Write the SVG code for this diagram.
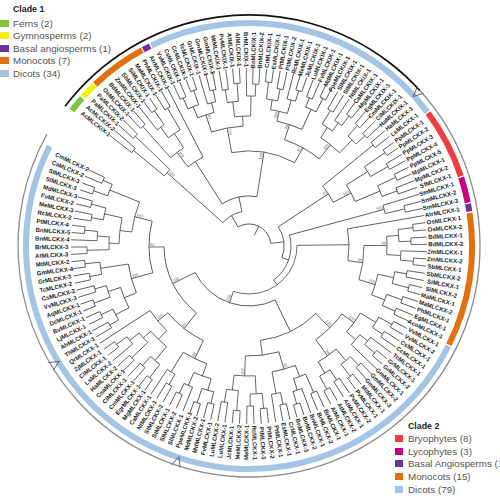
<svg xmlns="http://www.w3.org/2000/svg" width="500" height="500" viewBox="0 0 500 500">
<style>
.t path,.t circle{fill:none;stroke:#3a3a3a;stroke-width:0.75}
.lb text{font-family:"Liberation Sans",Arial,sans-serif;font-size:6px;font-weight:bold;fill:#1e1e1e}
.lb text.r{text-anchor:end}
.bs{font-family:"Liberation Sans",Arial,sans-serif;font-size:4px;fill:#666}
.bs .r{text-anchor:end}
.band{fill:none;stroke-width:6}
.v{fill:none;stroke:#555;stroke-width:0.8}
.lg{font-family:"Liberation Sans",Arial,sans-serif;font-size:9.8px;fill:#555}
.lh{font-family:"Liberation Sans",Arial,sans-serif;font-size:8.8px;font-weight:bold;fill:#222}
</style>
<rect width="500" height="500" fill="#fff"/>
<g transform="translate(249,246)">
<g id="rings">
<circle r="231" pathLength="360" fill="none" stroke="#8c8c8c" stroke-width="1.3" stroke-dasharray="251.3 360" transform="rotate(-42.3)"/>
<circle r="231" pathLength="360" fill="none" stroke="#111" stroke-width="1.7" stroke-dasharray="100.5 360" transform="rotate(-142.8)"/>
<circle class="band" r="223" pathLength="360" stroke="#80c342" stroke-dasharray="4.2 360" transform="rotate(-142.6)"/>
<circle class="band" r="223" pathLength="360" stroke="#f4f20c" stroke-dasharray="4.2 360" transform="rotate(-138)"/>
<circle class="band" r="223" pathLength="360" stroke="#e2700f" stroke-dasharray="15 360" transform="rotate(-133.6)"/>
<circle class="band" r="223" pathLength="360" stroke="#7030a0" stroke-dasharray="2 360" transform="rotate(-118.3)"/>
<circle class="band" r="223" pathLength="360" stroke="#a4c4e6" stroke-dasharray="79.1 360" transform="rotate(-116)"/>
<circle class="band" r="223" pathLength="360" stroke="#f03c3c" stroke-dasharray="18.4 360" transform="rotate(-36.6)"/>
<circle class="band" r="223" pathLength="360" stroke="#c8007f" stroke-dasharray="6.7 360" transform="rotate(-17.9)"/>
<circle class="band" r="223" pathLength="360" stroke="#7030a0" stroke-dasharray="2 360" transform="rotate(-10.9)"/>
<circle class="band" r="223" pathLength="360" stroke="#e2700f" stroke-dasharray="34.8 360" transform="rotate(-8.5)"/>
<circle class="band" r="223" pathLength="360" stroke="#a4c4e6" stroke-dasharray="180 360" transform="rotate(26.6)"/>
<path class="v" d="M232 -4.5L222 0L232 4.5" transform="rotate(-42.3)"/>
<path class="v" d="M232 -4.5L222 0L232 4.5" transform="rotate(108.4)"/>
<path class="v" d="M232 -4.5L222 0L232 4.5" transform="rotate(148.7)"/>
</g>
<g id="connectors" class="t">
<path d="M150 0H178" transform="rotate(-141.5)"/><path d="M150 0H178" transform="rotate(-139.3)"/><path d="M158 0H178" transform="rotate(-137.1)"/><path d="M158 0H178" transform="rotate(-134.9)"/><path d="M160 0H178" transform="rotate(-132.7)"/><path d="M160 0H178" transform="rotate(-130.5)"/><path d="M148 0H178" transform="rotate(-128.3)"/><path d="M165 0H178" transform="rotate(-126.1)"/><path d="M165 0H178" transform="rotate(-123.9)"/><path d="M160 0H178" transform="rotate(-121.7)"/><path d="M160 0H178" transform="rotate(-119.5)"/><path d="M100 0H178" transform="rotate(-117.3)"/><path d="M162 0H178" transform="rotate(-115.1)"/><path d="M162 0H178" transform="rotate(-112.9)"/><path d="M165 0H178" transform="rotate(-110.7)"/><path d="M165 0H178" transform="rotate(-108.5)"/><path d="M148 0H178" transform="rotate(-106.3)"/><path d="M160 0H178" transform="rotate(-104.1)"/><path d="M160 0H178" transform="rotate(-101.9)"/><path d="M158 0H178" transform="rotate(-99.7)"/><path d="M158 0H178" transform="rotate(-97.5)"/><path d="M163 0H178" transform="rotate(-95.3)"/><path d="M163 0H178" transform="rotate(-93.1)"/><path d="M150 0H178" transform="rotate(-90.9)"/><path d="M162 0H178" transform="rotate(-88.7)"/><path d="M162 0H178" transform="rotate(-86.5)"/><path d="M165 0H178" transform="rotate(-84.3)"/><path d="M165 0H178" transform="rotate(-82.1)"/><path d="M160 0H178" transform="rotate(-79.9)"/><path d="M160 0H178" transform="rotate(-77.7)"/><path d="M152 0H178" transform="rotate(-75.5)"/><path d="M163 0H178" transform="rotate(-73.3)"/><path d="M163 0H178" transform="rotate(-71.1)"/><path d="M160 0H178" transform="rotate(-68.9)"/><path d="M160 0H178" transform="rotate(-66.7)"/><path d="M165 0H178" transform="rotate(-64.5)"/><path d="M165 0H178" transform="rotate(-62.3)"/><path d="M158 0H178" transform="rotate(-60.1)"/><path d="M158 0H178" transform="rotate(-57.9)"/><path d="M152 0H178" transform="rotate(-55.7)"/><path d="M164 0H178" transform="rotate(-53.5)"/><path d="M164 0H178" transform="rotate(-51.3)"/><path d="M162 0H178" transform="rotate(-49.1)"/><path d="M162 0H178" transform="rotate(-46.9)"/><path d="M160 0H178" transform="rotate(-44.7)"/><path d="M160 0H178" transform="rotate(-42.5)"/>
<circle r="150" pathLength="360" stroke-dasharray="2.2 360" transform="rotate(-141.5)"/><path d="M110 0H150" transform="rotate(-140.4)"/>
<circle r="158" pathLength="360" stroke-dasharray="2.2 360" transform="rotate(-137.1)"/><path d="M110 0H158" transform="rotate(-136)"/>
<circle r="110" pathLength="360" stroke-dasharray="4.4 360" transform="rotate(-140.4)"/><path d="M35 0H110" transform="rotate(-138.2)"/>
<circle r="160" pathLength="360" stroke-dasharray="2.2 360" transform="rotate(-132.7)"/><path d="M118 0H160" transform="rotate(-131.6)"/>
<circle r="165" pathLength="360" stroke-dasharray="2.2 360" transform="rotate(-126.1)"/><path d="M148 0H165" transform="rotate(-125)"/>
<circle r="148" pathLength="360" stroke-dasharray="3.3 360" transform="rotate(-128.3)"/><path d="M135 0H148" transform="rotate(-126.65)"/>
<circle r="160" pathLength="360" stroke-dasharray="2.2 360" transform="rotate(-121.7)"/><path d="M135 0H160" transform="rotate(-120.6)"/>
<circle r="135" pathLength="360" stroke-dasharray="6.05 360" transform="rotate(-126.65)"/><path d="M118 0H135" transform="rotate(-123.6)"/>
<circle r="118" pathLength="360" stroke-dasharray="8 360" transform="rotate(-131.6)"/><path d="M100 0H118" transform="rotate(-127.6)"/>
<circle r="100" pathLength="360" stroke-dasharray="10.3 360" transform="rotate(-127.6)"/><path d="M50 0H100" transform="rotate(-122.45)"/>
<circle r="162" pathLength="360" stroke-dasharray="2.2 360" transform="rotate(-115.1)"/><path d="M150 0H162" transform="rotate(-114)"/>
<circle r="165" pathLength="360" stroke-dasharray="2.2 360" transform="rotate(-110.7)"/><path d="M150 0H165" transform="rotate(-109.6)"/>
<circle r="150" pathLength="360" stroke-dasharray="4.4 360" transform="rotate(-114)"/><path d="M138 0H150" transform="rotate(-111.8)"/>
<circle r="160" pathLength="360" stroke-dasharray="2.2 360" transform="rotate(-104.1)"/><path d="M148 0H160" transform="rotate(-103)"/>
<circle r="148" pathLength="360" stroke-dasharray="3.3 360" transform="rotate(-106.3)"/><path d="M138 0H148" transform="rotate(-104.65)"/>
<circle r="138" pathLength="360" stroke-dasharray="7.15 360" transform="rotate(-111.8)"/><path d="M120 0H138" transform="rotate(-108.2)"/>
<circle r="158" pathLength="360" stroke-dasharray="2.2 360" transform="rotate(-99.7)"/><path d="M145 0H158" transform="rotate(-98.6)"/>
<circle r="163" pathLength="360" stroke-dasharray="2.2 360" transform="rotate(-95.3)"/><path d="M145 0H163" transform="rotate(-94.2)"/>
<circle r="145" pathLength="360" stroke-dasharray="4.4 360" transform="rotate(-98.6)"/><path d="M130 0H145" transform="rotate(-96.4)"/>
<circle r="162" pathLength="360" stroke-dasharray="2.2 360" transform="rotate(-88.7)"/><path d="M150 0H162" transform="rotate(-87.6)"/>
<circle r="150" pathLength="360" stroke-dasharray="3.3 360" transform="rotate(-90.9)"/><path d="M130 0H150" transform="rotate(-89.25)"/>
<circle r="130" pathLength="360" stroke-dasharray="7.15 360" transform="rotate(-96.4)"/><path d="M120 0H130" transform="rotate(-92.8)"/>
<circle r="120" pathLength="360" stroke-dasharray="15.4 360" transform="rotate(-108.2)"/><path d="M95 0H120" transform="rotate(-100.5)"/>
<circle r="165" pathLength="360" stroke-dasharray="2.2 360" transform="rotate(-84.3)"/><path d="M148 0H165" transform="rotate(-83.2)"/>
<circle r="160" pathLength="360" stroke-dasharray="2.2 360" transform="rotate(-79.9)"/><path d="M148 0H160" transform="rotate(-78.8)"/>
<circle r="148" pathLength="360" stroke-dasharray="4.4 360" transform="rotate(-83.2)"/><path d="M138 0H148" transform="rotate(-81)"/>
<circle r="163" pathLength="360" stroke-dasharray="2.2 360" transform="rotate(-73.3)"/><path d="M152 0H163" transform="rotate(-72.2)"/>
<circle r="152" pathLength="360" stroke-dasharray="3.3 360" transform="rotate(-75.5)"/><path d="M138 0H152" transform="rotate(-73.85)"/>
<circle r="138" pathLength="360" stroke-dasharray="7.15 360" transform="rotate(-81)"/><path d="M128 0H138" transform="rotate(-77.4)"/>
<circle r="160" pathLength="360" stroke-dasharray="2.2 360" transform="rotate(-68.9)"/><path d="M150 0H160" transform="rotate(-67.8)"/>
<circle r="165" pathLength="360" stroke-dasharray="2.2 360" transform="rotate(-64.5)"/><path d="M150 0H165" transform="rotate(-63.4)"/>
<circle r="150" pathLength="360" stroke-dasharray="4.4 360" transform="rotate(-67.8)"/><path d="M128 0H150" transform="rotate(-65.6)"/>
<circle r="128" pathLength="360" stroke-dasharray="11.8 360" transform="rotate(-77.4)"/><path d="M112 0H128" transform="rotate(-71.5)"/>
<circle r="158" pathLength="360" stroke-dasharray="2.2 360" transform="rotate(-60.1)"/><path d="M142 0H158" transform="rotate(-59)"/>
<circle r="164" pathLength="360" stroke-dasharray="2.2 360" transform="rotate(-53.5)"/><path d="M152 0H164" transform="rotate(-52.4)"/>
<circle r="152" pathLength="360" stroke-dasharray="3.3 360" transform="rotate(-55.7)"/><path d="M142 0H152" transform="rotate(-54.05)"/>
<circle r="142" pathLength="360" stroke-dasharray="4.95 360" transform="rotate(-59)"/><path d="M130 0H142" transform="rotate(-56.5)"/>
<circle r="162" pathLength="360" stroke-dasharray="2.2 360" transform="rotate(-49.1)"/><path d="M148 0H162" transform="rotate(-48)"/>
<circle r="160" pathLength="360" stroke-dasharray="2.2 360" transform="rotate(-44.7)"/><path d="M148 0H160" transform="rotate(-43.6)"/>
<circle r="148" pathLength="360" stroke-dasharray="4.4 360" transform="rotate(-48)"/><path d="M130 0H148" transform="rotate(-45.8)"/>
<circle r="130" pathLength="360" stroke-dasharray="10.7 360" transform="rotate(-56.5)"/><path d="M112 0H130" transform="rotate(-51.15)"/>
<circle r="112" pathLength="360" stroke-dasharray="20.35 360" transform="rotate(-71.5)"/><path d="M95 0H112" transform="rotate(-61.3)"/>
<circle r="95" pathLength="360" stroke-dasharray="39.2 360" transform="rotate(-100.5)"/><path d="M50 0H95" transform="rotate(-80.9)"/>
<circle r="50" pathLength="360" stroke-dasharray="41.55 360" transform="rotate(-122.45)"/><path d="M35 0H50" transform="rotate(-101.7)"/>
<circle r="35" pathLength="360" stroke-dasharray="36.5 360" transform="rotate(-138.2)"/><path d="M22 0H35" transform="rotate(-119.95)"/>
<circle r="22" pathLength="360" stroke-dasharray="113.05 360" transform="rotate(-119.95)"/><path d="M12 0H22" transform="rotate(-63.4)"/>
<path d="M160 0H178" transform="rotate(-40.3)"/><path d="M160 0H178" transform="rotate(-37.96)"/><path d="M165 0H178" transform="rotate(-35.62)"/><path d="M165 0H178" transform="rotate(-33.28)"/><path d="M160 0H178" transform="rotate(-30.94)"/><path d="M160 0H178" transform="rotate(-28.6)"/><path d="M162 0H178" transform="rotate(-26.26)"/><path d="M162 0H178" transform="rotate(-23.92)"/><path d="M158 0H178" transform="rotate(-21.58)"/><path d="M158 0H178" transform="rotate(-19.24)"/><path d="M140 0H178" transform="rotate(-16.9)"/><path d="M160 0H178" transform="rotate(-14.56)"/><path d="M160 0H178" transform="rotate(-12.22)"/><path d="M100 0H178" transform="rotate(-9.88)"/><path d="M165 0H178" transform="rotate(-7.54)"/><path d="M165 0H178" transform="rotate(-5.2)"/><path d="M162 0H178" transform="rotate(-2.86)"/><path d="M162 0H178" transform="rotate(-0.52)"/><path d="M152 0H178" transform="rotate(1.82)"/><path d="M165 0H178" transform="rotate(4.16)"/><path d="M165 0H178" transform="rotate(6.5)"/><path d="M160 0H178" transform="rotate(8.84)"/><path d="M160 0H178" transform="rotate(11.18)"/><path d="M165 0H178" transform="rotate(13.52)"/><path d="M165 0H178" transform="rotate(15.86)"/><path d="M162 0H178" transform="rotate(18.2)"/><path d="M162 0H178" transform="rotate(20.54)"/><path d="M160 0H178" transform="rotate(22.88)"/><path d="M160 0H178" transform="rotate(25.22)"/><path d="M163 0H178" transform="rotate(27.56)"/><path d="M163 0H178" transform="rotate(29.9)"/><path d="M160 0H178" transform="rotate(32.24)"/><path d="M160 0H178" transform="rotate(34.58)"/><path d="M152 0H178" transform="rotate(36.92)"/><path d="M165 0H178" transform="rotate(39.26)"/><path d="M165 0H178" transform="rotate(41.6)"/><path d="M142 0H178" transform="rotate(43.94)"/><path d="M162 0H178" transform="rotate(46.28)"/><path d="M162 0H178" transform="rotate(48.62)"/><path d="M165 0H178" transform="rotate(50.96)"/><path d="M165 0H178" transform="rotate(53.3)"/><path d="M160 0H178" transform="rotate(55.64)"/><path d="M160 0H178" transform="rotate(57.98)"/><path d="M163 0H178" transform="rotate(60.32)"/><path d="M163 0H178" transform="rotate(62.66)"/><path d="M160 0H178" transform="rotate(65)"/><path d="M160 0H178" transform="rotate(67.34)"/><path d="M152 0H178" transform="rotate(69.68)"/><path d="M165 0H178" transform="rotate(72.02)"/><path d="M165 0H178" transform="rotate(74.36)"/><path d="M162 0H178" transform="rotate(76.7)"/><path d="M162 0H178" transform="rotate(79.04)"/><path d="M150 0H178" transform="rotate(81.38)"/><path d="M163 0H178" transform="rotate(83.72)"/><path d="M163 0H178" transform="rotate(86.06)"/><path d="M160 0H178" transform="rotate(88.4)"/><path d="M160 0H178" transform="rotate(90.74)"/><path d="M165 0H178" transform="rotate(93.08)"/><path d="M165 0H178" transform="rotate(95.42)"/><path d="M158 0H178" transform="rotate(97.76)"/><path d="M158 0H178" transform="rotate(100.1)"/><path d="M162 0H178" transform="rotate(102.44)"/><path d="M162 0H178" transform="rotate(104.78)"/><path d="M165 0H178" transform="rotate(107.12)"/><path d="M165 0H178" transform="rotate(109.46)"/><path d="M152 0H178" transform="rotate(111.8)"/><path d="M163 0H178" transform="rotate(114.14)"/><path d="M163 0H178" transform="rotate(116.48)"/><path d="M160 0H178" transform="rotate(118.82)"/><path d="M160 0H178" transform="rotate(121.16)"/><path d="M148 0H178" transform="rotate(123.5)"/><path d="M165 0H178" transform="rotate(125.84)"/><path d="M165 0H178" transform="rotate(128.18)"/><path d="M160 0H178" transform="rotate(130.52)"/><path d="M160 0H178" transform="rotate(132.86)"/><path d="M162 0H178" transform="rotate(135.2)"/><path d="M162 0H178" transform="rotate(137.54)"/><path d="M152 0H178" transform="rotate(139.88)"/><path d="M165 0H178" transform="rotate(142.22)"/><path d="M165 0H178" transform="rotate(144.56)"/><path d="M118 0H178" transform="rotate(146.9)"/><path d="M160 0H178" transform="rotate(149.24)"/><path d="M160 0H178" transform="rotate(151.58)"/><path d="M163 0H178" transform="rotate(153.92)"/><path d="M163 0H178" transform="rotate(156.26)"/><path d="M165 0H178" transform="rotate(158.6)"/><path d="M165 0H178" transform="rotate(160.94)"/><path d="M160 0H178" transform="rotate(163.28)"/><path d="M160 0H178" transform="rotate(165.62)"/><path d="M162 0H178" transform="rotate(167.96)"/><path d="M162 0H178" transform="rotate(170.3)"/><path d="M165 0H178" transform="rotate(172.64)"/><path d="M165 0H178" transform="rotate(174.98)"/><path d="M162 0H178" transform="rotate(177.32)"/><path d="M162 0H178" transform="rotate(179.66)"/><path d="M152 0H178" transform="rotate(182)"/><path d="M165 0H178" transform="rotate(184.34)"/><path d="M165 0H178" transform="rotate(186.68)"/><path d="M160 0H178" transform="rotate(189.02)"/><path d="M160 0H178" transform="rotate(191.36)"/><path d="M163 0H178" transform="rotate(193.7)"/><path d="M163 0H178" transform="rotate(196.04)"/><path d="M165 0H178" transform="rotate(198.38)"/><path d="M165 0H178" transform="rotate(200.72)"/><path d="M160 0H178" transform="rotate(203.06)"/><path d="M160 0H178" transform="rotate(205.4)"/>
<circle r="160" pathLength="360" stroke-dasharray="2.34 360" transform="rotate(-40.3)"/><path d="M95 0H160" transform="rotate(-39.13)"/>
<circle r="165" pathLength="360" stroke-dasharray="2.34 360" transform="rotate(-35.62)"/><path d="M140 0H165" transform="rotate(-34.45)"/>
<circle r="160" pathLength="360" stroke-dasharray="2.34 360" transform="rotate(-30.94)"/><path d="M140 0H160" transform="rotate(-29.77)"/>
<circle r="140" pathLength="360" stroke-dasharray="4.68 360" transform="rotate(-34.45)"/><path d="M115 0H140" transform="rotate(-32.11)"/>
<circle r="162" pathLength="360" stroke-dasharray="2.34 360" transform="rotate(-26.26)"/><path d="M142 0H162" transform="rotate(-25.09)"/>
<circle r="158" pathLength="360" stroke-dasharray="2.34 360" transform="rotate(-21.58)"/><path d="M142 0H158" transform="rotate(-20.41)"/>
<circle r="142" pathLength="360" stroke-dasharray="4.68 360" transform="rotate(-25.09)"/><path d="M115 0H142" transform="rotate(-22.75)"/>
<circle r="115" pathLength="360" stroke-dasharray="9.36 360" transform="rotate(-32.11)"/><path d="M95 0H115" transform="rotate(-27.43)"/>
<circle r="95" pathLength="360" stroke-dasharray="11.7 360" transform="rotate(-39.13)"/><path d="M35 0H95" transform="rotate(-33.28)"/>
<circle r="160" pathLength="360" stroke-dasharray="2.34 360" transform="rotate(-14.56)"/><path d="M140 0H160" transform="rotate(-13.39)"/>
<circle r="140" pathLength="360" stroke-dasharray="3.51 360" transform="rotate(-16.9)"/><path d="M42 0H140" transform="rotate(-15.15)"/>
<circle r="165" pathLength="360" stroke-dasharray="2.34 360" transform="rotate(-7.54)"/><path d="M150 0H165" transform="rotate(-6.37)"/>
<circle r="162" pathLength="360" stroke-dasharray="2.34 360" transform="rotate(-2.86)"/><path d="M150 0H162" transform="rotate(-1.69)"/>
<circle r="150" pathLength="360" stroke-dasharray="4.68 360" transform="rotate(-6.37)"/><path d="M138 0H150" transform="rotate(-4.03)"/>
<circle r="165" pathLength="360" stroke-dasharray="2.34 360" transform="rotate(4.16)"/><path d="M152 0H165" transform="rotate(5.33)"/>
<circle r="152" pathLength="360" stroke-dasharray="3.51 360" transform="rotate(1.82)"/><path d="M138 0H152" transform="rotate(3.58)"/>
<circle r="138" pathLength="360" stroke-dasharray="7.61 360" transform="rotate(-4.03)"/><path d="M115 0H138" transform="rotate(-0.23)"/>
<circle r="160" pathLength="360" stroke-dasharray="2.34 360" transform="rotate(8.84)"/><path d="M148 0H160" transform="rotate(10.01)"/>
<circle r="165" pathLength="360" stroke-dasharray="2.34 360" transform="rotate(13.52)"/><path d="M148 0H165" transform="rotate(14.69)"/>
<circle r="148" pathLength="360" stroke-dasharray="4.68 360" transform="rotate(10.01)"/><path d="M132 0H148" transform="rotate(12.35)"/>
<circle r="162" pathLength="360" stroke-dasharray="2.34 360" transform="rotate(18.2)"/><path d="M146 0H162" transform="rotate(19.37)"/>
<circle r="160" pathLength="360" stroke-dasharray="2.34 360" transform="rotate(22.88)"/><path d="M146 0H160" transform="rotate(24.05)"/>
<circle r="146" pathLength="360" stroke-dasharray="4.68 360" transform="rotate(19.37)"/><path d="M132 0H146" transform="rotate(21.71)"/>
<circle r="132" pathLength="360" stroke-dasharray="9.36 360" transform="rotate(12.35)"/><path d="M115 0H132" transform="rotate(17.03)"/>
<circle r="115" pathLength="360" stroke-dasharray="17.26 360" transform="rotate(-0.23)"/><path d="M100 0H115" transform="rotate(8.4)"/>
<circle r="100" pathLength="360" stroke-dasharray="18.28 360" transform="rotate(-9.88)"/><path d="M48 0H100" transform="rotate(-0.74)"/>
<circle r="163" pathLength="360" stroke-dasharray="2.34 360" transform="rotate(27.56)"/><path d="M148 0H163" transform="rotate(28.73)"/>
<circle r="160" pathLength="360" stroke-dasharray="2.34 360" transform="rotate(32.24)"/><path d="M148 0H160" transform="rotate(33.41)"/>
<circle r="148" pathLength="360" stroke-dasharray="4.68 360" transform="rotate(28.73)"/><path d="M130 0H148" transform="rotate(31.07)"/>
<circle r="165" pathLength="360" stroke-dasharray="2.34 360" transform="rotate(39.26)"/><path d="M152 0H165" transform="rotate(40.43)"/>
<circle r="152" pathLength="360" stroke-dasharray="3.51 360" transform="rotate(36.92)"/><path d="M142 0H152" transform="rotate(38.68)"/>
<circle r="142" pathLength="360" stroke-dasharray="5.26 360" transform="rotate(38.68)"/><path d="M130 0H142" transform="rotate(41.31)"/>
<circle r="130" pathLength="360" stroke-dasharray="10.24 360" transform="rotate(31.07)"/><path d="M115 0H130" transform="rotate(36.19)"/>
<circle r="162" pathLength="360" stroke-dasharray="2.34 360" transform="rotate(46.28)"/><path d="M150 0H162" transform="rotate(47.45)"/>
<circle r="165" pathLength="360" stroke-dasharray="2.34 360" transform="rotate(50.96)"/><path d="M150 0H165" transform="rotate(52.13)"/>
<circle r="150" pathLength="360" stroke-dasharray="4.68 360" transform="rotate(47.45)"/><path d="M135 0H150" transform="rotate(49.79)"/>
<circle r="160" pathLength="360" stroke-dasharray="2.34 360" transform="rotate(55.64)"/><path d="M148 0H160" transform="rotate(56.81)"/>
<circle r="163" pathLength="360" stroke-dasharray="2.34 360" transform="rotate(60.32)"/><path d="M148 0H163" transform="rotate(61.49)"/>
<circle r="148" pathLength="360" stroke-dasharray="4.68 360" transform="rotate(56.81)"/><path d="M135 0H148" transform="rotate(59.15)"/>
<circle r="135" pathLength="360" stroke-dasharray="9.36 360" transform="rotate(49.79)"/><path d="M115 0H135" transform="rotate(54.47)"/>
<circle r="115" pathLength="360" stroke-dasharray="18.28 360" transform="rotate(36.19)"/><path d="M95 0H115" transform="rotate(45.33)"/>
<circle r="160" pathLength="360" stroke-dasharray="2.34 360" transform="rotate(65)"/><path d="M140 0H160" transform="rotate(66.17)"/>
<circle r="165" pathLength="360" stroke-dasharray="2.34 360" transform="rotate(72.02)"/><path d="M152 0H165" transform="rotate(73.19)"/>
<circle r="152" pathLength="360" stroke-dasharray="3.51 360" transform="rotate(69.68)"/><path d="M140 0H152" transform="rotate(71.44)"/>
<circle r="140" pathLength="360" stroke-dasharray="5.27 360" transform="rotate(66.17)"/><path d="M128 0H140" transform="rotate(68.8)"/>
<circle r="162" pathLength="360" stroke-dasharray="2.34 360" transform="rotate(76.7)"/><path d="M150 0H162" transform="rotate(77.87)"/>
<circle r="150" pathLength="360" stroke-dasharray="3.51 360" transform="rotate(77.87)"/><path d="M128 0H150" transform="rotate(79.63)"/>
<circle r="128" pathLength="360" stroke-dasharray="10.83 360" transform="rotate(68.8)"/><path d="M110 0H128" transform="rotate(74.2)"/>
<circle r="163" pathLength="360" stroke-dasharray="2.34 360" transform="rotate(83.72)"/><path d="M148 0H163" transform="rotate(84.89)"/>
<circle r="160" pathLength="360" stroke-dasharray="2.34 360" transform="rotate(88.4)"/><path d="M148 0H160" transform="rotate(89.57)"/>
<circle r="148" pathLength="360" stroke-dasharray="4.68 360" transform="rotate(84.89)"/><path d="M130 0H148" transform="rotate(87.23)"/>
<circle r="165" pathLength="360" stroke-dasharray="2.34 360" transform="rotate(93.08)"/><path d="M145 0H165" transform="rotate(94.25)"/>
<circle r="158" pathLength="360" stroke-dasharray="2.34 360" transform="rotate(97.76)"/><path d="M145 0H158" transform="rotate(98.93)"/>
<circle r="145" pathLength="360" stroke-dasharray="4.68 360" transform="rotate(94.25)"/><path d="M130 0H145" transform="rotate(96.59)"/>
<circle r="130" pathLength="360" stroke-dasharray="9.36 360" transform="rotate(87.23)"/><path d="M110 0H130" transform="rotate(91.91)"/>
<circle r="110" pathLength="360" stroke-dasharray="17.71 360" transform="rotate(74.2)"/><path d="M95 0H110" transform="rotate(83.05)"/>
<circle r="95" pathLength="360" stroke-dasharray="37.72 360" transform="rotate(45.33)"/><path d="M60 0H95" transform="rotate(64.19)"/>
<circle r="162" pathLength="360" stroke-dasharray="2.34 360" transform="rotate(102.44)"/><path d="M150 0H162" transform="rotate(103.61)"/>
<circle r="165" pathLength="360" stroke-dasharray="2.34 360" transform="rotate(107.12)"/><path d="M150 0H165" transform="rotate(108.29)"/>
<circle r="150" pathLength="360" stroke-dasharray="4.68 360" transform="rotate(103.61)"/><path d="M138 0H150" transform="rotate(105.95)"/>
<circle r="163" pathLength="360" stroke-dasharray="2.34 360" transform="rotate(114.14)"/><path d="M152 0H163" transform="rotate(115.31)"/>
<circle r="152" pathLength="360" stroke-dasharray="3.51 360" transform="rotate(111.8)"/><path d="M138 0H152" transform="rotate(113.55)"/>
<circle r="138" pathLength="360" stroke-dasharray="7.6 360" transform="rotate(105.95)"/><path d="M125 0H138" transform="rotate(109.75)"/>
<circle r="160" pathLength="360" stroke-dasharray="2.34 360" transform="rotate(118.82)"/><path d="M148 0H160" transform="rotate(120)"/>
<circle r="148" pathLength="360" stroke-dasharray="3.5 360" transform="rotate(120)"/><path d="M125 0H148" transform="rotate(121.75)"/>
<circle r="125" pathLength="360" stroke-dasharray="12 360" transform="rotate(109.75)"/><path d="M105 0H125" transform="rotate(115.75)"/>
<circle r="165" pathLength="360" stroke-dasharray="2.34 360" transform="rotate(125.84)"/><path d="M148 0H165" transform="rotate(127.01)"/>
<circle r="160" pathLength="360" stroke-dasharray="2.34 360" transform="rotate(130.52)"/><path d="M148 0H160" transform="rotate(131.69)"/>
<circle r="148" pathLength="360" stroke-dasharray="4.68 360" transform="rotate(127.01)"/><path d="M130 0H148" transform="rotate(129.35)"/>
<circle r="162" pathLength="360" stroke-dasharray="2.34 360" transform="rotate(135.2)"/><path d="M140 0H162" transform="rotate(136.37)"/>
<circle r="165" pathLength="360" stroke-dasharray="2.34 360" transform="rotate(142.22)"/><path d="M152 0H165" transform="rotate(143.39)"/>
<circle r="152" pathLength="360" stroke-dasharray="3.51 360" transform="rotate(139.88)"/><path d="M140 0H152" transform="rotate(141.64)"/>
<circle r="140" pathLength="360" stroke-dasharray="5.27 360" transform="rotate(136.37)"/><path d="M130 0H140" transform="rotate(139)"/>
<circle r="130" pathLength="360" stroke-dasharray="9.65 360" transform="rotate(129.35)"/><path d="M118 0H130" transform="rotate(134.18)"/>
<circle r="118" pathLength="360" stroke-dasharray="12.72 360" transform="rotate(134.18)"/><path d="M105 0H118" transform="rotate(140.54)"/>
<circle r="105" pathLength="360" stroke-dasharray="24.79 360" transform="rotate(115.75)"/><path d="M85 0H105" transform="rotate(128.15)"/>
<circle r="160" pathLength="360" stroke-dasharray="2.34 360" transform="rotate(149.24)"/><path d="M150 0H160" transform="rotate(150.41)"/>
<circle r="163" pathLength="360" stroke-dasharray="2.34 360" transform="rotate(153.92)"/><path d="M150 0H163" transform="rotate(155.09)"/>
<circle r="150" pathLength="360" stroke-dasharray="4.68 360" transform="rotate(150.41)"/><path d="M135 0H150" transform="rotate(152.75)"/>
<circle r="165" pathLength="360" stroke-dasharray="2.34 360" transform="rotate(158.6)"/><path d="M148 0H165" transform="rotate(159.77)"/>
<circle r="160" pathLength="360" stroke-dasharray="2.34 360" transform="rotate(163.28)"/><path d="M148 0H160" transform="rotate(164.45)"/>
<circle r="148" pathLength="360" stroke-dasharray="4.68 360" transform="rotate(159.77)"/><path d="M135 0H148" transform="rotate(162.11)"/>
<circle r="135" pathLength="360" stroke-dasharray="9.36 360" transform="rotate(152.75)"/><path d="M122 0H135" transform="rotate(157.43)"/>
<circle r="162" pathLength="360" stroke-dasharray="2.34 360" transform="rotate(167.96)"/><path d="M150 0H162" transform="rotate(169.13)"/>
<circle r="165" pathLength="360" stroke-dasharray="2.34 360" transform="rotate(172.64)"/><path d="M150 0H165" transform="rotate(173.81)"/>
<circle r="150" pathLength="360" stroke-dasharray="4.68 360" transform="rotate(169.13)"/><path d="M122 0H150" transform="rotate(171.47)"/>
<circle r="122" pathLength="360" stroke-dasharray="14.04 360" transform="rotate(157.43)"/><path d="M100 0H122" transform="rotate(164.45)"/>
<circle r="162" pathLength="360" stroke-dasharray="2.34 360" transform="rotate(177.32)"/><path d="M140 0H162" transform="rotate(178.49)"/>
<circle r="165" pathLength="360" stroke-dasharray="2.34 360" transform="rotate(184.34)"/><path d="M152 0H165" transform="rotate(185.51)"/>
<circle r="152" pathLength="360" stroke-dasharray="3.51 360" transform="rotate(182)"/><path d="M140 0H152" transform="rotate(183.76)"/>
<circle r="140" pathLength="360" stroke-dasharray="5.27 360" transform="rotate(178.49)"/><path d="M130 0H140" transform="rotate(181.13)"/>
<circle r="160" pathLength="360" stroke-dasharray="2.34 360" transform="rotate(189.02)"/><path d="M148 0H160" transform="rotate(190.19)"/>
<circle r="163" pathLength="360" stroke-dasharray="2.34 360" transform="rotate(193.7)"/><path d="M148 0H163" transform="rotate(194.87)"/>
<circle r="148" pathLength="360" stroke-dasharray="4.68 360" transform="rotate(190.19)"/><path d="M130 0H148" transform="rotate(192.53)"/>
<circle r="130" pathLength="360" stroke-dasharray="11.4 360" transform="rotate(181.13)"/><path d="M118 0H130" transform="rotate(186.83)"/>
<circle r="165" pathLength="360" stroke-dasharray="2.34 360" transform="rotate(198.38)"/><path d="M150 0H165" transform="rotate(199.55)"/>
<circle r="160" pathLength="360" stroke-dasharray="2.34 360" transform="rotate(203.06)"/><path d="M150 0H160" transform="rotate(204.23)"/>
<circle r="150" pathLength="360" stroke-dasharray="4.68 360" transform="rotate(199.55)"/><path d="M118 0H150" transform="rotate(201.89)"/>
<circle r="118" pathLength="360" stroke-dasharray="15.06 360" transform="rotate(186.83)"/><path d="M100 0H118" transform="rotate(194.36)"/>
<circle r="100" pathLength="360" stroke-dasharray="29.91 360" transform="rotate(164.45)"/><path d="M85 0H100" transform="rotate(179.4)"/>
<circle r="85" pathLength="360" stroke-dasharray="51.25 360" transform="rotate(128.15)"/><path d="M60 0H85" transform="rotate(153.78)"/>
<circle r="60" pathLength="360" stroke-dasharray="89.59 360" transform="rotate(64.19)"/><path d="M48 0H60" transform="rotate(108.99)"/>
<circle r="48" pathLength="360" stroke-dasharray="109.73 360" transform="rotate(-0.74)"/><path d="M42 0H48" transform="rotate(54.1)"/>
<circle r="42" pathLength="360" stroke-dasharray="69.25 360" transform="rotate(-15.15)"/><path d="M35 0H42" transform="rotate(19.5)"/>
<circle r="35" pathLength="360" stroke-dasharray="52.78 360" transform="rotate(-33.28)"/><path d="M22 0H35" transform="rotate(-6.9)"/>
</g>
<g id="bootstrap" class="bs">
<text class="r" transform="rotate(-77.4)" x="137" y="-1">100</text>
<text class="r" transform="rotate(-71.5)" x="127" y="-1">99</text>
<text class="r" transform="rotate(-51.15)" x="129" y="-1">100</text>
<text class="r" transform="rotate(-61.3)" x="111" y="-1">87</text>
<text class="r" transform="rotate(-80.9)" x="94" y="-1">100</text>
<text class="r" transform="rotate(-27.43)" x="114" y="-1">100</text>
<text class="r" transform="rotate(-33.28)" x="94" y="-1">76</text>
<text class="r" transform="rotate(-15.15)" x="139" y="-1">100</text>
<text class="r" transform="rotate(-0.23)" x="137" y="-1">98</text>
<text class="r" transform="rotate(17.03)" x="131" y="-1">100</text>
<text class="r" transform="rotate(8.4)" x="114" y="-1">99</text>
<text class="r" transform="rotate(36.19)" x="129" y="-1">100</text>
<text class="r" transform="rotate(54.47)" x="134" y="-1">94</text>
<text class="r" transform="rotate(45.33)" x="114" y="-1">100</text>
<text class="r" transform="rotate(74.2)" x="127" y="-1">88</text>
<text transform="rotate(41.8)" x="-109" y="-1">100</text>
<text transform="rotate(52.4)" x="-117" y="-1">100</text>
<text transform="rotate(71.8)" x="-137" y="-1">97</text>
<text transform="rotate(79.5)" x="-119" y="-1">100</text>
<text transform="rotate(-88.09)" x="-129" y="-1">100</text>
<text transform="rotate(-64.25)" x="-124" y="-1">99</text>
<text transform="rotate(-39.46)" x="-117" y="-1">100</text>
<text transform="rotate(-51.85)" x="-104" y="-1">83</text>
<text transform="rotate(-15.55)" x="-121" y="-1">100</text>
<text transform="rotate(14.36)" x="-117" y="-1">100</text>
<text transform="rotate(-0.6)" x="-99" y="-1">92</text>
<text transform="rotate(-26.22)" x="-84" y="-1">100</text>
<text transform="rotate(-71.01)" x="-59" y="-1">100</text>
</g>
<g class="lb">
<g id="a0"><text transform="rotate(38.5)" x="-214" y="2">AcMLCKIX-1</text></g>
<g id="a1"><text transform="rotate(40.7)" x="-214" y="2">AcMLCKIX-2</text></g>
<g id="a2"><text transform="rotate(42.9)" x="-214" y="2">PaMLCKIX-1</text></g>
<g id="a3"><text transform="rotate(45.1)" x="-214" y="2">PaMLCKIX-2</text></g>
<g id="a4"><text transform="rotate(47.3)" x="-214" y="2">OsMLCKIX-1</text></g>
<g id="a5"><text transform="rotate(49.5)" x="-214" y="2">BdMLCKIX-1</text></g>
<g id="a6"><text transform="rotate(51.7)" x="-214" y="2">ZmMLCKIX-1</text></g>
<g id="a7"><text transform="rotate(53.9)" x="-214" y="2">SbMLCKIX-1</text></g>
<g id="a8"><text transform="rotate(56.1)" x="-214" y="2">SiMLCKIX-1</text></g>
<g id="a9"><text transform="rotate(58.3)" x="-214" y="2">MaMLCKIX-1</text></g>
<g id="a10"><text transform="rotate(60.5)" x="-214" y="2">PhMLCKIX-1</text></g>
<g id="a11"><text transform="rotate(62.7)" x="-214" y="2">AtrMLCKIX-1</text></g>
<g id="a12"><text transform="rotate(64.9)" x="-214" y="2">VvMLCKIX-1</text></g>
<g id="a13"><text transform="rotate(67.1)" x="-214" y="2">CsMLCKIX-1</text></g>
<g id="a14"><text transform="rotate(69.3)" x="-214" y="2">CcMLCKIX-1</text></g>
<g id="a15"><text transform="rotate(71.5)" x="-214" y="2">TcMLCKIX-1</text></g>
<g id="a16"><text transform="rotate(73.7)" x="-214" y="2">GrMLCKIX-1</text></g>
<g id="a17"><text transform="rotate(75.9)" x="-214" y="2">GmMLCKIX-1</text></g>
<g id="a18"><text transform="rotate(78.1)" x="-214" y="2">GmMLCKIX-2</text></g>
<g id="a19"><text transform="rotate(80.3)" x="-214" y="2">MtMLCKIX-1</text></g>
<g id="a20"><text transform="rotate(82.5)" x="-214" y="2">PvMLCKIX-1</text></g>
<g id="a21"><text transform="rotate(84.7)" x="-214" y="2">AtMLCKIX-1</text></g>
<g id="a22"><text transform="rotate(86.9)" x="-214" y="2">AlMLCKIX-1</text></g>
<g id="a23"><text transform="rotate(89.1)" x="-214" y="2">BrMLCKIX-1</text></g>
<g id="a24"><text class="r" transform="rotate(-88.7)" x="214" y="2">BnMLCKIX-1</text></g>
<g id="a25"><text class="r" transform="rotate(-86.5)" x="214" y="2">BnMLCKIX-2</text></g>
<g id="a26"><text class="r" transform="rotate(-84.3)" x="214" y="2">CrMLCKIX-1</text></g>
<g id="a27"><text class="r" transform="rotate(-82.1)" x="214" y="2">EsMLCKIX-1</text></g>
<g id="a28"><text class="r" transform="rotate(-79.9)" x="214" y="2">PtMLCKIX-1</text></g>
<g id="a29"><text class="r" transform="rotate(-77.7)" x="214" y="2">PtMLCKIX-2</text></g>
<g id="a30"><text class="r" transform="rotate(-75.5)" x="214" y="2">RcMLCKIX-1</text></g>
<g id="a31"><text class="r" transform="rotate(-73.3)" x="214" y="2">MeMLCKIX-1</text></g>
<g id="a32"><text class="r" transform="rotate(-71.1)" x="214" y="2">JcMLCKIX-1</text></g>
<g id="a33"><text class="r" transform="rotate(-68.9)" x="214" y="2">LuMLCKIX-1</text></g>
<g id="a34"><text class="r" transform="rotate(-66.7)" x="214" y="2">FvMLCKIX-1</text></g>
<g id="a35"><text class="r" transform="rotate(-64.5)" x="214" y="2">MdMLCKIX-1</text></g>
<g id="a36"><text class="r" transform="rotate(-62.3)" x="214" y="2">PpeMLCKIX-1</text></g>
<g id="a37"><text class="r" transform="rotate(-60.1)" x="214" y="2">SlMLCKIX-1</text></g>
<g id="a38"><text class="r" transform="rotate(-57.9)" x="214" y="2">StMLCKIX-1</text></g>
<g id="a39"><text class="r" transform="rotate(-55.7)" x="214" y="2">NtMLCKIX-1</text></g>
<g id="a40"><text class="r" transform="rotate(-53.5)" x="214" y="2">CaMLCKIX-1</text></g>
<g id="a41"><text class="r" transform="rotate(-51.3)" x="214" y="2">MgMLCKIX-1</text></g>
<g id="a42"><text class="r" transform="rotate(-49.1)" x="214" y="2">EgMLCKIX-1</text></g>
<g id="a43"><text class="r" transform="rotate(-46.9)" x="214" y="2">CmMLCKIX-1</text></g>
<g id="a44"><text class="r" transform="rotate(-44.7)" x="214" y="2">ClMLCKIX-1</text></g>
<g id="a45"><text class="r" transform="rotate(-42.5)" x="214" y="2">HaMLCKIX-1</text></g>
<g id="b0"><text class="r" transform="rotate(-40.3)" x="214" y="2">HaMLCKX-1</text></g>
<g id="b1"><text class="r" transform="rotate(-37.96)" x="214" y="2">LsMLCKX-1</text></g>
<g id="b2"><text class="r" transform="rotate(-35.62)" x="214" y="2">PpMLCKX-1</text></g>
<g id="b3"><text class="r" transform="rotate(-33.28)" x="214" y="2">PpMLCKX-2</text></g>
<g id="b4"><text class="r" transform="rotate(-30.94)" x="214" y="2">PpMLCKX-3</text></g>
<g id="b5"><text class="r" transform="rotate(-28.6)" x="214" y="2">PpMLCKX-4</text></g>
<g id="b6"><text class="r" transform="rotate(-26.26)" x="214" y="2">PpMLCKX-5</text></g>
<g id="b7"><text class="r" transform="rotate(-23.92)" x="214" y="2">MpMLCKX-1</text></g>
<g id="b8"><text class="r" transform="rotate(-21.58)" x="214" y="2">MpMLCKX-2</text></g>
<g id="b9"><text class="r" transform="rotate(-19.24)" x="214" y="2">SfMLCKX-1</text></g>
<g id="b10"><text class="r" transform="rotate(-16.9)" x="214" y="2">SmMLCKX-1</text></g>
<g id="b11"><text class="r" transform="rotate(-14.56)" x="214" y="2">SmMLCKX-2</text></g>
<g id="b12"><text class="r" transform="rotate(-12.22)" x="214" y="2">SmMLCKX-3</text></g>
<g id="b13"><text class="r" transform="rotate(-9.88)" x="214" y="2">AtrMLCKX-1</text></g>
<g id="b14"><text class="r" transform="rotate(-7.54)" x="214" y="2">OsMLCKX-1</text></g>
<g id="b15"><text class="r" transform="rotate(-5.2)" x="214" y="2">OsMLCKX-2</text></g>
<g id="b16"><text class="r" transform="rotate(-2.86)" x="214" y="2">BdMLCKX-1</text></g>
<g id="b17"><text class="r" transform="rotate(-0.52)" x="214" y="2">BdMLCKX-2</text></g>
<g id="b18"><text class="r" transform="rotate(1.82)" x="214" y="2">ZmMLCKX-1</text></g>
<g id="b19"><text class="r" transform="rotate(4.16)" x="214" y="2">ZmMLCKX-2</text></g>
<g id="b20"><text class="r" transform="rotate(6.5)" x="214" y="2">SbMLCKX-1</text></g>
<g id="b21"><text class="r" transform="rotate(8.84)" x="214" y="2">SbMLCKX-2</text></g>
<g id="b22"><text class="r" transform="rotate(11.18)" x="214" y="2">SiMLCKX-1</text></g>
<g id="b23"><text class="r" transform="rotate(13.52)" x="214" y="2">SiMLCKX-2</text></g>
<g id="b24"><text class="r" transform="rotate(15.86)" x="214" y="2">MaMLCKX-1</text></g>
<g id="b25"><text class="r" transform="rotate(18.2)" x="214" y="2">MaMLCKX-2</text></g>
<g id="b26"><text class="r" transform="rotate(20.54)" x="214" y="2">PhMLCKX-1</text></g>
<g id="b27"><text class="r" transform="rotate(22.88)" x="214" y="2">EgMLCKX-1</text></g>
<g id="b28"><text class="r" transform="rotate(25.22)" x="214" y="2">AcoMLCKX-1</text></g>
<g id="b29"><text class="r" transform="rotate(27.56)" x="214" y="2">VvMLCKX-1</text></g>
<g id="b30"><text class="r" transform="rotate(29.9)" x="214" y="2">VvMLCKX-2</text></g>
<g id="b31"><text class="r" transform="rotate(32.24)" x="214" y="2">CsMLCKX-1</text></g>
<g id="b32"><text class="r" transform="rotate(34.58)" x="214" y="2">CcMLCKX-1</text></g>
<g id="b33"><text class="r" transform="rotate(36.92)" x="214" y="2">TcMLCKX-1</text></g>
<g id="b34"><text class="r" transform="rotate(39.26)" x="214" y="2">GrMLCKX-1</text></g>
<g id="b35"><text class="r" transform="rotate(41.6)" x="214" y="2">GrMLCKX-2</text></g>
<g id="b36"><text class="r" transform="rotate(43.94)" x="214" y="2">GmMLCKX-1</text></g>
<g id="b37"><text class="r" transform="rotate(46.28)" x="214" y="2">GmMLCKX-2</text></g>
<g id="b38"><text class="r" transform="rotate(48.62)" x="214" y="2">GmMLCKX-3</text></g>
<g id="b39"><text class="r" transform="rotate(50.96)" x="214" y="2">MtMLCKX-1</text></g>
<g id="b40"><text class="r" transform="rotate(53.3)" x="214" y="2">PvMLCKX-1</text></g>
<g id="b41"><text class="r" transform="rotate(55.64)" x="214" y="2">PvMLCKX-2</text></g>
<g id="b42"><text class="r" transform="rotate(57.98)" x="214" y="2">AtMLCKX-1</text></g>
<g id="b43"><text class="r" transform="rotate(60.32)" x="214" y="2">AtMLCKX-2</text></g>
<g id="b44"><text class="r" transform="rotate(62.66)" x="214" y="2">AlMLCKX-1</text></g>
<g id="b45"><text class="r" transform="rotate(65)" x="214" y="2">BrMLCKX-1</text></g>
<g id="b46"><text class="r" transform="rotate(67.34)" x="214" y="2">BrMLCKX-2</text></g>
<g id="b47"><text class="r" transform="rotate(69.68)" x="214" y="2">BnMLCKX-1</text></g>
<g id="b48"><text class="r" transform="rotate(72.02)" x="214" y="2">BnMLCKX-2</text></g>
<g id="b49"><text class="r" transform="rotate(74.36)" x="214" y="2">BnMLCKX-3</text></g>
<g id="b50"><text class="r" transform="rotate(76.7)" x="214" y="2">CrMLCKX-1</text></g>
<g id="b51"><text class="r" transform="rotate(79.04)" x="214" y="2">EsMLCKX-1</text></g>
<g id="b52"><text class="r" transform="rotate(81.38)" x="214" y="2">PtMLCKX-1</text></g>
<g id="b53"><text class="r" transform="rotate(83.72)" x="214" y="2">PtMLCKX-2</text></g>
<g id="b54"><text class="r" transform="rotate(86.06)" x="214" y="2">PtMLCKX-3</text></g>
<g id="b55"><text class="r" transform="rotate(88.4)" x="214" y="2">RcMLCKX-1</text></g>
<g id="b56"><text transform="rotate(-89.26)" x="-214" y="2">MeMLCKX-1</text></g>
<g id="b57"><text transform="rotate(-86.92)" x="-214" y="2">MeMLCKX-2</text></g>
<g id="b58"><text transform="rotate(-84.58)" x="-214" y="2">JcMLCKX-1</text></g>
<g id="b59"><text transform="rotate(-82.24)" x="-214" y="2">LuMLCKX-1</text></g>
<g id="b60"><text transform="rotate(-79.9)" x="-214" y="2">LuMLCKX-2</text></g>
<g id="b61"><text transform="rotate(-77.56)" x="-214" y="2">FvMLCKX-1</text></g>
<g id="b62"><text transform="rotate(-75.22)" x="-214" y="2">MdMLCKX-1</text></g>
<g id="b63"><text transform="rotate(-72.88)" x="-214" y="2">MdMLCKX-2</text></g>
<g id="b64"><text transform="rotate(-70.54)" x="-214" y="2">PpeMLCKX-1</text></g>
<g id="b65"><text transform="rotate(-68.2)" x="-214" y="2">SlMLCKX-1</text></g>
<g id="b66"><text transform="rotate(-65.86)" x="-214" y="2">SlMLCKX-2</text></g>
<g id="b67"><text transform="rotate(-63.52)" x="-214" y="2">StMLCKX-1</text></g>
<g id="b68"><text transform="rotate(-61.18)" x="-214" y="2">StMLCKX-2</text></g>
<g id="b69"><text transform="rotate(-58.84)" x="-214" y="2">NtMLCKX-1</text></g>
<g id="b70"><text transform="rotate(-56.5)" x="-214" y="2">CaMLCKX-1</text></g>
<g id="b71"><text transform="rotate(-54.16)" x="-214" y="2">MgMLCKX-1</text></g>
<g id="b72"><text transform="rotate(-51.82)" x="-214" y="2">EgrMLCKX-1</text></g>
<g id="b73"><text transform="rotate(-49.48)" x="-214" y="2">CmMLCKX-1</text></g>
<g id="b74"><text transform="rotate(-47.14)" x="-214" y="2">ClMLCKX-1</text></g>
<g id="b75"><text transform="rotate(-44.8)" x="-214" y="2">CsaMLCKX-1</text></g>
<g id="b76"><text transform="rotate(-42.46)" x="-214" y="2">HaMLCKX-2</text></g>
<g id="b77"><text transform="rotate(-40.12)" x="-214" y="2">LsMLCKX-2</text></g>
<g id="b78"><text transform="rotate(-37.78)" x="-214" y="2">CiMLCKX-1</text></g>
<g id="b79"><text transform="rotate(-35.44)" x="-214" y="2">ZjMLCKX-1</text></g>
<g id="b80"><text transform="rotate(-33.1)" x="-214" y="2">QrMLCKX-1</text></g>
<g id="b81"><text transform="rotate(-30.76)" x="-214" y="2">ThMLCKX-1</text></g>
<g id="b82"><text transform="rotate(-28.42)" x="-214" y="2">AhMLCKX-1</text></g>
<g id="b83"><text transform="rotate(-26.08)" x="-214" y="2">LjMLCKX-1</text></g>
<g id="b84"><text transform="rotate(-23.74)" x="-214" y="2">BvMLCKX-1</text></g>
<g id="b85"><text transform="rotate(-21.4)" x="-214" y="2">DcMLCKX-1</text></g>
<g id="b86"><text transform="rotate(-19.06)" x="-214" y="2">AqMLCKX-1</text></g>
<g id="b87"><text transform="rotate(-16.72)" x="-214" y="2">VvMLCKX-3</text></g>
<g id="b88"><text transform="rotate(-14.38)" x="-214" y="2">CsMLCKX-2</text></g>
<g id="b89"><text transform="rotate(-12.04)" x="-214" y="2">TcMLCKX-2</text></g>
<g id="b90"><text transform="rotate(-9.7)" x="-214" y="2">GrMLCKX-3</text></g>
<g id="b91"><text transform="rotate(-7.36)" x="-214" y="2">GmMLCKX-4</text></g>
<g id="b92"><text transform="rotate(-5.02)" x="-214" y="2">MtMLCKX-2</text></g>
<g id="b93"><text transform="rotate(-2.68)" x="-214" y="2">AtMLCKX-3</text></g>
<g id="b94"><text transform="rotate(-0.34)" x="-214" y="2">BrMLCKX-3</text></g>
<g id="b95"><text transform="rotate(2)" x="-214" y="2">BnMLCKX-4</text></g>
<g id="b96"><text transform="rotate(4.34)" x="-214" y="2">BnMLCKX-5</text></g>
<g id="b97"><text transform="rotate(6.68)" x="-214" y="2">PtMLCKX-4</text></g>
<g id="b98"><text transform="rotate(9.02)" x="-214" y="2">RcMLCKX-2</text></g>
<g id="b99"><text transform="rotate(11.36)" x="-214" y="2">MeMLCKX-3</text></g>
<g id="b100"><text transform="rotate(13.7)" x="-214" y="2">FvMLCKX-2</text></g>
<g id="b101"><text transform="rotate(16.04)" x="-214" y="2">MdMLCKX-3</text></g>
<g id="b102"><text transform="rotate(18.38)" x="-214" y="2">SlMLCKX-3</text></g>
<g id="b103"><text transform="rotate(20.72)" x="-214" y="2">StMLCKX-3</text></g>
<g id="b104"><text transform="rotate(23.06)" x="-214" y="2">CaMLCKX-2</text></g>
<g id="b105"><text transform="rotate(25.4)" x="-214" y="2">CmMLCKX-2</text></g>
</g>
</g>
<g id="legend1">
<text class="lh" x="13" y="12">Clade 1</text>
<rect x="0" y="20" width="9" height="7" fill="#80c342"/><text class="lg" x="13" y="27">Ferns (2)</text>
<rect x="0" y="32" width="9" height="7" fill="#f4f20c"/><text class="lg" x="13" y="39">Gymnosperms (2)</text>
<rect x="0" y="45" width="9" height="7" fill="#7030a0"/><text class="lg" x="13" y="52">Basal angiosperms (1)</text>
<rect x="0" y="57" width="9" height="7" fill="#e2700f"/><text class="lg" x="13" y="64">Monocots (7)</text>
<rect x="0" y="70" width="9" height="7" fill="#a4c4e6"/><text class="lg" x="13" y="77">Dicots (34)</text>
</g>
<g id="legend2">
<text class="lh" x="408" y="429">Clade 2</text>
<rect x="395" y="435" width="8" height="7" fill="#f03c3c"/><text class="lg" x="408" y="442">Bryophytes (8)</text>
<rect x="395" y="448" width="8" height="7" fill="#c8007f"/><text class="lg" x="408" y="455">Lycophytes (3)</text>
<rect x="395" y="460" width="8" height="7" fill="#7030a0"/><text class="lg" x="408" y="467">Basal Angiosperms (1)</text>
<rect x="395" y="473" width="8" height="7" fill="#e2700f"/><text class="lg" x="408" y="480">Monocots (15)</text>
<rect x="395" y="486" width="8" height="7" fill="#a4c4e6"/><text class="lg" x="408" y="493">Dicots (79)</text>
</g>
</svg>
